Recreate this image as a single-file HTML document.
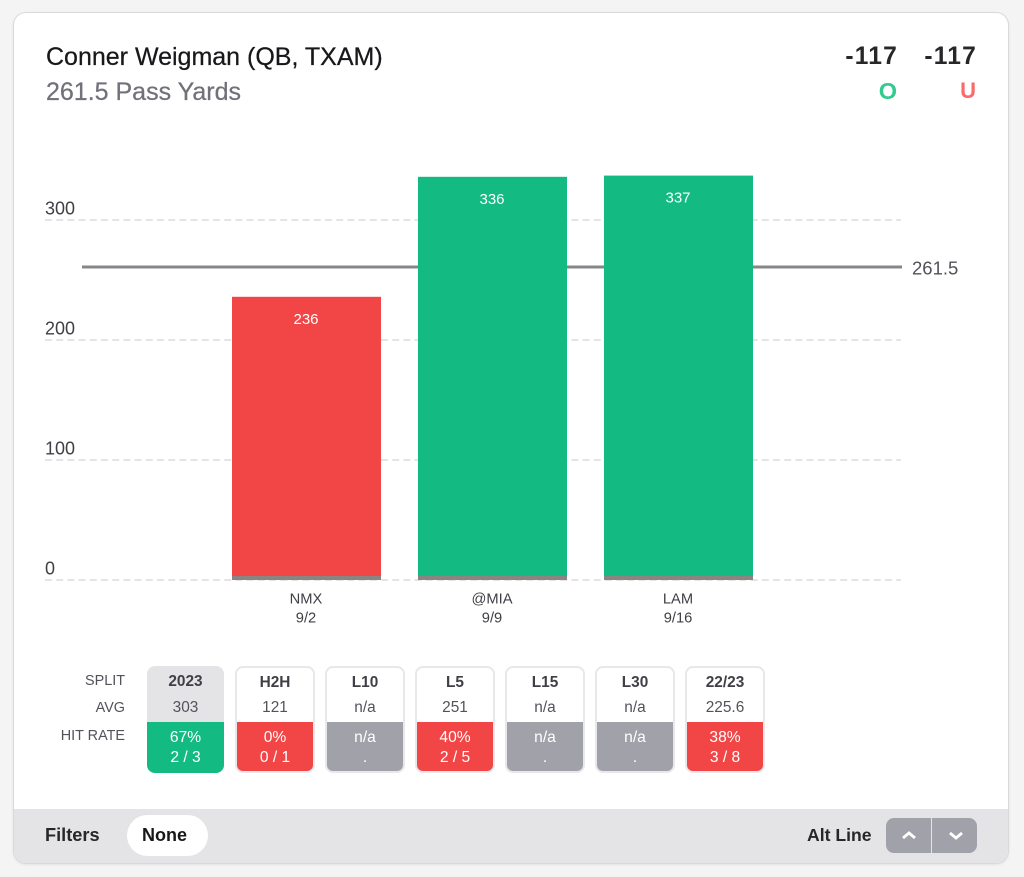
<!DOCTYPE html>
<html lang="en">
<head>
<meta charset="utf-8">
<title>Conner Weigman Pass Yards</title>
<style>
html,body{margin:0;padding:0;width:1024px;height:877px;overflow:hidden;background:#f4f4f5;font-family:"Liberation Sans",sans-serif;}
*{box-sizing:border-box;}
.abs{position:absolute;white-space:nowrap;}
#card{position:absolute;left:14px;top:13px;width:994px;height:850px;background:#fff;border-radius:12px;box-shadow:0 0 0 1px #d9d9dc,0 1px 3px rgba(0,0,0,.12);overflow:hidden;}
#chart{position:absolute;left:0;top:0;}
.lbl{position:absolute;right:899px;font-size:14.4px;color:#52525b;line-height:16px;white-space:nowrap;}
.split{position:absolute;top:666px;width:80px;height:107px;border:2px solid #e8e8eb;border-radius:8px;overflow:hidden;background:#fff;text-align:center;}
.split.sel{left:147px;width:77px;border:none;background:#e4e4e7;}
.split .h{position:absolute;left:0;right:0;top:5.5px;font-size:15.4px;line-height:18px;font-weight:bold;color:#3f3f46;}
.split .a{position:absolute;left:0;right:0;top:30.5px;font-size:15.4px;line-height:18px;color:#52525b;}
.split .r{position:absolute;left:0;right:0;top:54px;bottom:0;color:#fff;font-size:15.6px;line-height:20px;padding-top:5.5px;}
.split.sel .h{top:6.5px;}.split.sel .a{top:32.5px;}.split.sel .r{top:56px;}
.green{background:#13ba82;}.red{background:#f14546;}.gray{background:#a1a1aa;}
</style>
</head>
<body>
<div id="card"></div>
<svg id="chart" width="1024" height="877"></svg>

<div class="abs" style="left:46px;top:43px;font-size:25px;line-height:28px;color:#18181b;-webkit-text-stroke:.25px #18181b;">Conner Weigman (QB, TXAM)</div>
<div class="abs" style="left:46px;top:78px;font-size:25px;line-height:28px;color:#71717a;-webkit-text-stroke:.25px #71717a;">261.5 Pass Yards</div>
<div class="abs" style="right:126px;top:43px;font-size:24.6px;line-height:28px;font-weight:bold;letter-spacing:1.2px;color:#27272a;">-117</div>
<div class="abs" style="right:47px;top:43px;font-size:24.6px;line-height:28px;font-weight:bold;letter-spacing:1.2px;color:#27272a;">-117</div>
<div class="abs" style="right:127px;top:77px;font-size:23.5px;line-height:28px;font-weight:bold;color:#34c990;">O</div>
<div class="abs" style="right:48px;top:77px;font-size:22px;line-height:28px;font-weight:bold;color:#f96a6a;">U</div>

<div class="lbl" style="top:673px;">SPLIT</div>
<div class="lbl" style="top:700px;">AVG</div>
<div class="lbl" style="top:728px;">HIT RATE</div>

<div class="split sel"><div class="h">2023</div><div class="a">303</div><div class="r green">67%<br>2 / 3</div></div>
<div class="split" style="left:235px"><div class="h">H2H</div><div class="a">121</div><div class="r red">0%<br>0 / 1</div></div>
<div class="split" style="left:325px"><div class="h">L10</div><div class="a">n/a</div><div class="r gray">n/a<br>.</div></div>
<div class="split" style="left:415px"><div class="h">L5</div><div class="a">251</div><div class="r red">40%<br>2 / 5</div></div>
<div class="split" style="left:505px"><div class="h">L15</div><div class="a">n/a</div><div class="r gray">n/a<br>.</div></div>
<div class="split" style="left:595px"><div class="h">L30</div><div class="a">n/a</div><div class="r gray">n/a<br>.</div></div>
<div class="split" style="left:685px"><div class="h">22/23</div><div class="a">225.6</div><div class="r red">38%<br>3 / 8</div></div>

<div class="abs" style="left:14px;top:809px;width:994px;height:54px;background:#e4e4e7;border-radius:0 0 12px 12px;"></div>
<div class="abs" style="left:45px;top:825px;font-size:18.2px;line-height:20px;font-weight:bold;color:#27272a;">Filters</div>
<div class="abs" style="left:127px;top:815px;width:81px;height:41px;border-radius:21px;background:#fff;text-align:center;font-size:18px;line-height:41px;font-weight:bold;color:#18181b;padding-right:6px;">None</div>
<div class="abs" style="left:807px;top:825px;font-size:17.6px;line-height:20px;font-weight:bold;color:#27272a;">Alt Line</div>
<div class="abs" style="left:886px;top:818px;width:45px;height:35px;border-radius:8px 0 0 8px;background:#a1a1aa;">
<svg width="45" height="35"><path d="M17 20 L23 15 L29 20" fill="none" stroke="#fff" stroke-width="2.8"/></svg></div>
<div class="abs" style="left:932px;top:818px;width:45px;height:35px;border-radius:0 8px 8px 0;background:#a1a1aa;">
<svg width="45" height="35"><path d="M18 15 L24 20 L30 15" fill="none" stroke="#fff" stroke-width="2.8"/></svg></div>

<script>
const opponents = ['NMX', '@MIA', 'LAM'];
const dates = ['9/2', '9/9', '9/16'];
const yards = [236, 336, 337];
const yTicks = [0, 100, 200, 300];
const propLine = [261.5];

const NS = 'http://www.w3.org/2000/svg';
const svg = document.getElementById('chart');
function yScale(v) { return 580 - v * 1.2; }
function xLeft(i) { return 232 + i * 186; }
const barWidth = 149;
function add(tag, attrs, text) {
  const el = document.createElementNS(NS, tag);
  for (const k in attrs) el.setAttribute(k, attrs[k]);
  if (text !== undefined) el.textContent = text;
  svg.appendChild(el);
  return el;
}
const font = '"Liberation Sans", sans-serif';

yTicks.forEach(function (t) {
  const grid = add('line', {x1: 45, x2: 901, y1: yScale(t), y2: yScale(t), stroke: '#dcdcdf', 'stroke-width': 1.5, 'stroke-dasharray': '7 4.2'});
  
  
  const label = add('text', {x: 45, y: yScale(t) - 5.5, 'font-size': 18, fill: '#3f3f46', 'font-family': font}, String(t));
  
  
});

const refLine = add('line', {x1: 82, x2: 902, y1: yScale(propLine[0]) + 0.8, y2: yScale(propLine[0]) + 0.8, stroke: '#85878a', 'stroke-width': 3});


const refLabel = add('text', {x: 912, y: yScale(propLine[0]) + 8.5, 'font-size': 18.5, fill: '#52525b', 'font-family': font}, String(propLine[0]));



yards.forEach(function (v, i) {
  const over = v > propLine[0];
  const top = yScale(v);
  const bar = add('rect', {x: xLeft(i), y: top, width: barWidth, height: yScale(0) - top, fill: over ? '#13ba82' : '#f14546'});
  
  
  const base = add('rect', {x: xLeft(i), y: yScale(0) - 4, width: barWidth, height: 4, fill: '#8a8583'});
  
  
  const cx = xLeft(i) + barWidth / 2 - 0.5;
  const val = add('text', {x: cx, y: top + 27, 'text-anchor': 'middle', 'font-size': 15, fill: '#fff', 'font-family': font}, String(v));
  
  
  const opp = add('text', {x: cx, y: 603.5, 'text-anchor': 'middle', 'font-size': 14.7, fill: '#3f3f46', 'font-family': font}, opponents[i]);
  
  
  const date = add('text', {x: cx, y: 622.5, 'text-anchor': 'middle', 'font-size': 14.7, fill: '#3f3f46', 'font-family': font}, dates[i]);
  
  
});
</script>
</body>
</html>
